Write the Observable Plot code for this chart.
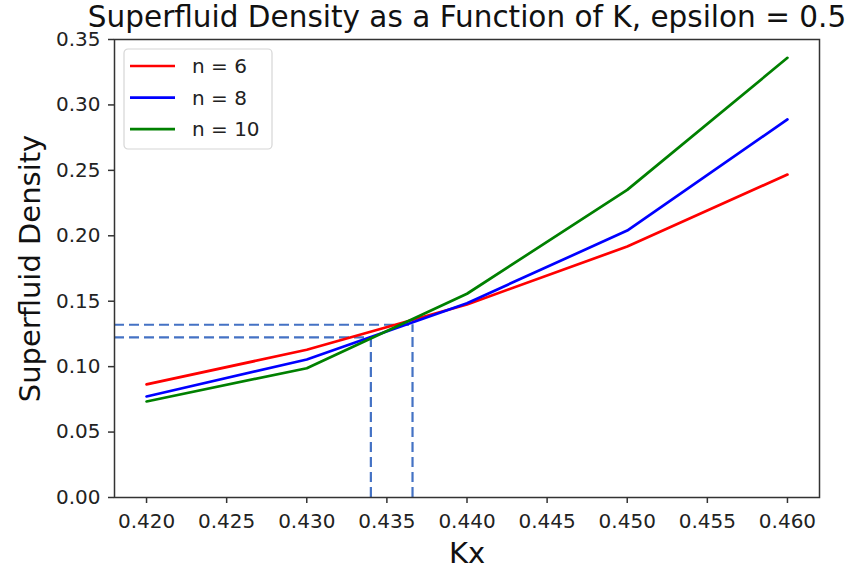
<!DOCTYPE html>
<html><head><meta charset="utf-8">
<script src="https://cdn.jsdelivr.net/npm/d3@7"></script>
<script src="https://cdn.jsdelivr.net/npm/@observablehq/plot@0.6"></script>
<style>body{margin:0;background:#fff}</style>
</head><body><div id="chart"></div>
<script>
const kx = [0.42, 0.43, 0.44, 0.45, 0.46];
const seriesNames = ["n = 6", "n = 8", "n = 10"];
const n6 = [0.0864, 0.1129, 0.1475, 0.1918, 0.2468];
const n8 = [0.0772, 0.1055, 0.1485, 0.2040, 0.2889];
const n10 = [0.0734, 0.0988, 0.1557, 0.2351, 0.3360];
const seriesColors = ["#ff0000", "#0000ff", "#008000"];
const xTicks = [0.420, 0.425, 0.430, 0.435, 0.440, 0.445, 0.450, 0.455, 0.460];
const yTicks = [0.00, 0.05, 0.10, 0.15, 0.20, 0.25, 0.30, 0.35];
const crossX = [0.4340, 0.4366];
const crossY = [0.1223, 0.1320];
const xDomain = [0.418, 0.462];
const yDomain = [0, 0.35];
const titleText = "Superfluid Density as a Function of K, epsilon = 0.5";
const xLabel = "Kx";
const yLabel = "Superfluid Density";

const allSeries = [n6, n8, n10];
const rows = [];
allSeries.forEach((vals, s) => vals.forEach((v, i) => rows.push({x: kx[i], y: v, series: seriesNames[s]})));
const cross = crossX.map((x, i) => ({x, y: crossY[i]}));
const dashColor = "#4472c4";
const font = "DejaVu Sans, sans-serif";

const chart = Plot.plot({
  width: 849, height: 577,
  marginLeft: 114, marginRight: 30, marginTop: 39, marginBottom: 80,
  style: {fontFamily: font, fontSize: "20px", color: "#222", background: "#fff"},
  x: {domain: xDomain},
  y: {domain: yDomain},
  color: {domain: seriesNames, range: seriesColors},
  marks: [
    Plot.ruleY(cross, {y: "y", x1: xDomain[0], x2: "x", stroke: dashColor, strokeWidth: 2.2, strokeDasharray: "10,5"}),
    Plot.ruleX(cross, {x: "x", y1: 0, y2: "y", stroke: dashColor, strokeWidth: 2.2, strokeDasharray: "10,5"}),
    Plot.line(rows, {x: "x", y: "y", z: "series", stroke: "series", strokeWidth: 2.7}),
    Plot.frame({stroke: "#333", strokeWidth: 1.5}),
    Plot.axisX({ticks: xTicks, tickFormat: d3.format(".3f"), tickSize: 6, tickPadding: 10, label: null, stroke: "#333", strokeWidth: 1.5, fontSize: 20}),
    Plot.axisY({ticks: yTicks, tickFormat: d3.format(".2f"), tickSize: 6, tickPadding: 8, label: null, stroke: "#333", strokeWidth: 1.5, fontSize: 20}),
    Plot.text([titleText], {frameAnchor: "top", dy: -22, lineAnchor: "middle", textAnchor: "middle", fontSize: 29.5, fill: "#111"}),
    Plot.text([xLabel], {frameAnchor: "bottom", dy: 56, lineAnchor: "middle", textAnchor: "middle", fontSize: 29, fill: "#111"}),
    Plot.text([yLabel], {frameAnchor: "left", dx: -84, rotate: -90, lineAnchor: "middle", textAnchor: "middle", fontSize: 29, fill: "#111"})
  ]
});

// legend (matplotlib-style box, upper left)
const svg = d3.select(chart);
const lg = svg.append("g").attr("transform", "translate(124,49)");
lg.append("rect").attr("width", 148).attr("height", 100).attr("rx", 4)
  .attr("fill", "#fff").attr("fill-opacity", 0.85).attr("stroke", "#d6d6d6").attr("stroke-width", 1.2);
seriesNames.forEach((name, i) => {
  const yy = 17 + i * 31.6;
  lg.append("line").attr("x1", 6).attr("x2", 51).attr("y1", yy).attr("y2", yy)
    .attr("stroke", seriesColors[i]).attr("stroke-width", 2.7);
  lg.append("text").attr("x", 68).attr("y", yy).attr("dy", "0.35em")
    .attr("text-anchor", "start")
    .attr("font-family", font).attr("font-size", 20).attr("fill", "#222").text(name);
});
document.getElementById("chart").appendChild(chart);
</script>
</body></html>
